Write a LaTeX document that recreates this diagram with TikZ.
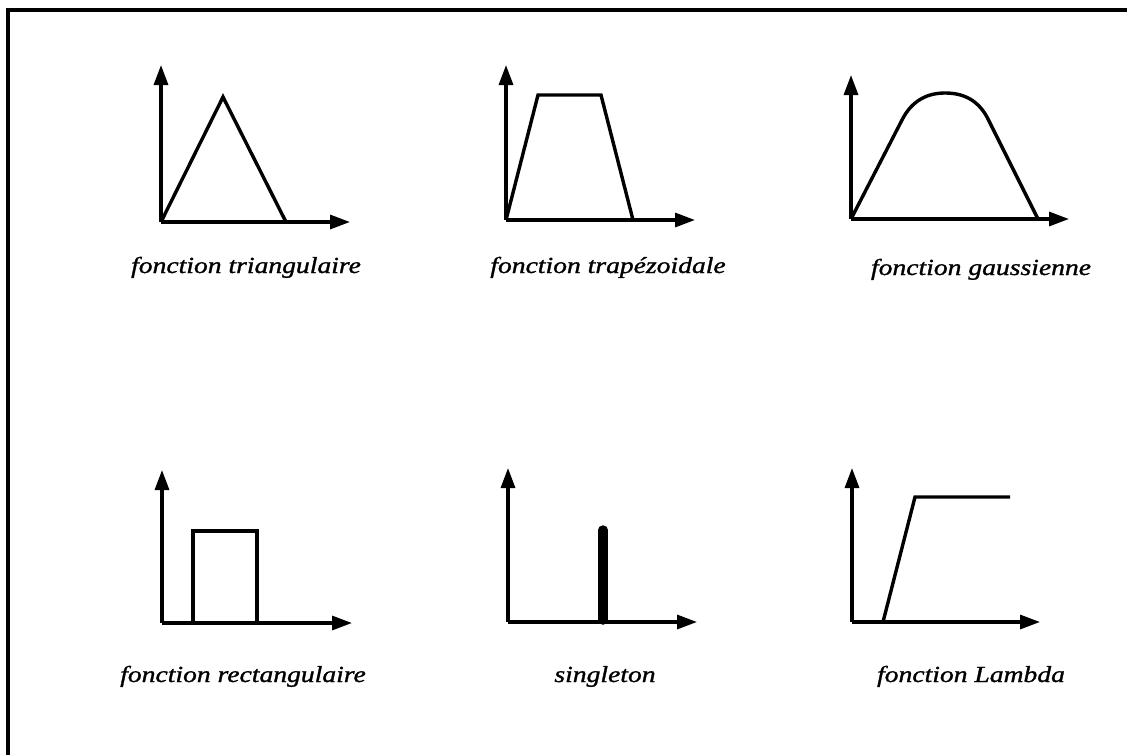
\documentclass[tikz,border=0pt]{standalone}
\usepackage{fontspec}
\setmainfont{Liberation Serif}
\newfontfamily\labfont[FakeStretch=1.2,FakeBold=1.2]{Liberation Serif}
\usetikzlibrary{arrows.meta}
\tikzset{
  axis/.style={line width=3.2pt,-{Triangle[length=20pt,width=14pt]}},
  curve/.style={line width=3.4pt},
  spike/.style={line width=9.5pt,line cap=round},
  lab/.style={font=\labfont\itshape\fontsize{23}{26}\selectfont, anchor=base, inner sep=0pt},
  frame/.style={line width=3.2pt}
}
\begin{document}
\begin{tikzpicture}[x=1pt,y=-1pt]
\useasboundingbox (0,0) rectangle (1127,755);
\fill[white] (0,0) rectangle (1127,755);
\coordinate (fbl) at (8,755);
\coordinate (ftl) at (8,10);
\coordinate (ftr) at (1127,10);
\draw[frame] (fbl) -- (ftl) -- (ftr);

% 1 triangular
\coordinate (o1) at (161,222);
\draw[axis] (o1) -- (161,65);
\draw[axis] (o1) -- (350,222);
\draw[curve] (o1) -- (223,97) -- (286,222);
\node[lab] (l1) at (246,273) {fonction triangulaire};

% 2 trapezoidal
\coordinate (o2) at (506,220);
\draw[axis] (o2) -- (506,65);
\draw[axis] (o2) -- (695,220);
\draw[curve] (o2) -- (538,95) -- (601,95) -- (633,220);
\node[lab] (l2) at (608,273) {fonction trapézoidale};

% 3 gaussian
\coordinate (o3) at (851,219);
\draw[axis] (o3) -- (851,75);
\draw[axis] (o3) -- (1069,219);
\draw[curve] (o3) -- (902,120) .. controls (912,100) and (928,93) .. (945,93)
  .. controls (962,93) and (977,99) .. (987,117) -- (1038,219);
\node[lab] (l3) at (981,275) {fonction gaussienne};

% 4 rectangular
\coordinate (o4) at (162,623);
\draw[axis] (o4) -- (162,470);
\draw[axis] (o4) -- (352,623);
\draw[curve] (193,623) -- (193,531) -- (257,531) -- (257,623);
\node[lab] (l4) at (243,682) {fonction rectangulaire};

% 5 singleton
\coordinate (o5) at (508,622);
\draw[axis] (o5) -- (508,468);
\draw[axis] (o5) -- (697,622);
\draw[spike] (603,620) -- (603,530);
\node[lab] (l5) at (605,682) {singleton};

% 6 lambda
\coordinate (o6) at (852,622);
\draw[axis] (o6) -- (852,468);
\draw[axis] (o6) -- (1040,622);
\draw[curve] (883,622) -- (915,497) -- (1010,497);
\node[lab] (l6) at (971,682) {fonction Lambda};
\end{tikzpicture}
\end{document}
